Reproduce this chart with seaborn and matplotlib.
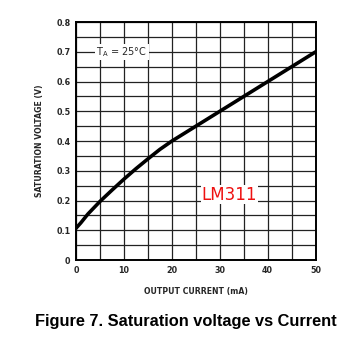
import matplotlib
matplotlib.use("Agg")
import matplotlib.pyplot as plt
import pandas as pd
import seaborn as sns

# output current (mA) vs saturation voltage (V)
current_ma = [0, 1, 2.5, 5, 7.5, 10, 12.5, 15, 17.5, 20, 25, 30, 35, 40, 45, 50]
sat_voltage = [0.107, 0.125, 0.155, 0.197, 0.235, 0.272, 0.307, 0.34, 0.372,
               0.40, 0.45, 0.50, 0.55, 0.60, 0.65, 0.70]
x_ticks = [0, 10, 20, 30, 40, 50]
y_ticks = [0, 0.1, 0.2, 0.3, 0.4, 0.5, 0.6, 0.7, 0.8]


def plot():
    sns.set_style("white")
    plt.rcParams["font.family"] = ["DejaVu Sans"]

    df = pd.DataFrame({"I": current_ma, "V": sat_voltage})

    fig = plt.figure(figsize=(3.55, 3.51), dpi=100)
    ax = fig.add_axes([0.214, 0.259, 0.675, 0.678])

    # fine grid every 5 mA / 0.05 V
    for gx in range(0, 55, 5):
        ax.axvline(gx, color="#222222", lw=0.9, zorder=1)
    for i in range(17):
        ax.axhline(i * 0.05, color="#222222", lw=0.9, zorder=1)

    sns.lineplot(data=df, x="I", y="V", ax=ax, color="black", lw=2.6,
                 zorder=3, legend=False)

    ax.set_xlim(0, 50)
    ax.set_ylim(0, 0.8)
    ax.set_xticks(x_ticks)
    ax.set_xticklabels([str(t) for t in x_ticks])
    ax.set_yticks(y_ticks)
    ax.set_yticklabels(["0"] + [f"{t:.1f}" for t in y_ticks[1:]])
    ax.tick_params(length=0, labelsize=5.8, pad=4)
    for lab in ax.get_xticklabels() + ax.get_yticklabels():
        lab.set_fontweight("bold")

    ax.set_xlabel("OUTPUT CURRENT (mA)", fontsize=5.6, fontweight="bold",
                  labelpad=9)
    ax.set_ylabel("SATURATION VOLTAGE (V)", fontsize=5.6, fontweight="bold",
                  labelpad=9)

    for s in ax.spines.values():
        s.set_color("black")
        s.set_linewidth(1.4)

    ax.text(9.6, 0.7, r"T$_\mathregular{A}$ = 25°C", fontsize=7,
            ha="center", va="center", zorder=4,
            bbox=dict(facecolor="white", edgecolor="none", pad=1))
    ax.text(32, 0.22, "LM311", fontsize=12, color="#ee1111",
            ha="center", va="center", zorder=4,
            bbox=dict(facecolor="white", edgecolor="none", pad=0.5))

    fig.text(0.524, 0.085, "Figure 7. Saturation voltage vs Current",
             fontsize=11.8, fontweight="bold", ha="center", va="center",
             color="black", family=["Liberation Sans", "DejaVu Sans"])

    fig.savefig("out.png", dpi=100)


if __name__ == "__main__":
    plot()
